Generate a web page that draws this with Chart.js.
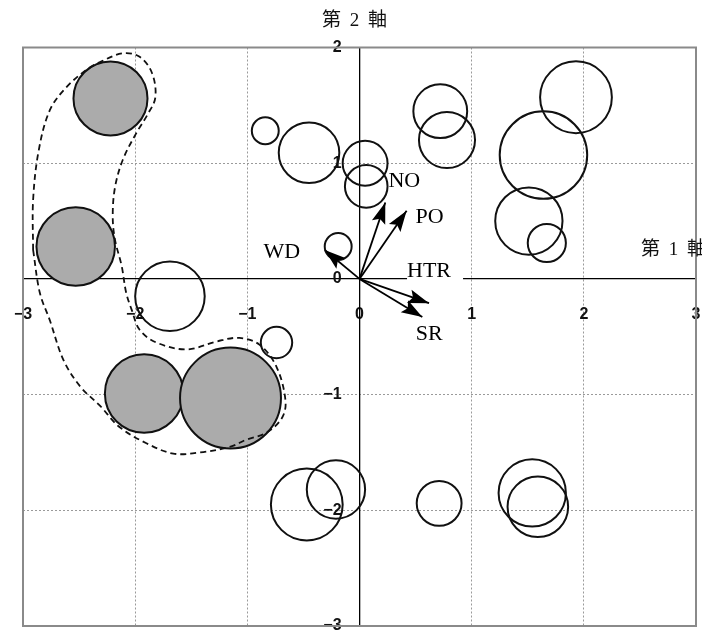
<!DOCTYPE html>
<html><head><meta charset="utf-8">
<script src="https://cdn.jsdelivr.net/npm/chart.js@4"></script>
<style>html,body{margin:0;padding:0;background:#fff}canvas{display:block}</style>
</head><body>
<canvas id="c" width="702" height="636"></canvas>
<script>
// ---- data ----
const pointX = [-2.22, -2.53, -0.84, -0.45, -1.69, -0.19, 0.05, 0.06, 0.72, 0.78, 1.64, 1.93, 1.51, 1.67, -0.74, -1.92, -1.15, -0.47, -0.21, 0.71, 1.54, 1.59];
const pointY = [1.56, 0.28, 1.28, 1.09, -0.15, 0.28, 1.00, 0.80, 1.45, 1.20, 1.07, 1.57, 0.50, 0.31, -0.55, -0.99, -1.03, -1.95, -1.82, -1.94, -1.85, -1.97];
const pointSize = [0.33, 0.35, 0.12, 0.27, 0.31, 0.12, 0.20, 0.19, 0.24, 0.25, 0.39, 0.32, 0.30, 0.17, 0.14, 0.35, 0.45, 0.32, 0.26, 0.20, 0.30, 0.27];
const pointGroup = [1, 1, 0, 0, 0, 0, 0, 0, 0, 0, 0, 0, 0, 0, 0, 1, 1, 0, 0, 0, 0, 0];

const arrowNames = ['NO', 'PO', 'WD', 'HTR', 'SR'];
const arrowX = [0.23, 0.42, -0.31, 0.62, 0.56];
const arrowY = [0.66, 0.59, 0.25, -0.21, -0.33];

const outlineX = [-2.91,-2.91,-2.86,-2.76,-2.61,-2.43,-2.30,-2.11,-1.96,-1.85,-1.82,-1.89,-1.99,-2.11,-2.18,-2.20,-2.18,-2.12,-2.08,-2.03,-1.96,-1.81,-1.54,-1.27,-1.07,-0.89,-0.74,-0.66,-0.69,-0.83,-1.01,-1.15,-1.42,-1.66,-1.90,-2.14,-2.31,-2.49,-2.64,-2.76,-2.85];
const outlineY = [0.25,0.68,1.11,1.46,1.66,1.81,1.88,1.95,1.92,1.78,1.57,1.42,1.26,1.03,0.79,0.54,0.34,0.11,-0.12,-0.27,-0.44,-0.55,-0.61,-0.54,-0.51,-0.57,-0.76,-1.05,-1.20,-1.33,-1.39,-1.45,-1.50,-1.51,-1.42,-1.28,-1.10,-0.93,-0.70,-0.36,-0.12];

const xTicks = [-3, -2, -1, 0, 1, 2, 3];
const yTicks = [-3, -2, -1, 0, 1, 2];
const axisTitles = ['第 1 軸', '第 2 軸'];

// ---- build ----
function sizeToPx(chart, s) {
  const sc = chart.scales.x;
  if (!sc) return 0;
  const k = Math.abs(sc.getPixelForValue(1) - sc.getPixelForValue(0));
  return isFinite(k) ? s * k : 0;
}
function pts(g) {
  const out = [];
  pointX.forEach((x, i) => { if (pointGroup[i] === g) out.push({x: x, y: pointY[i], s: pointSize[i]}); });
  return out;
}
const radiusFn = ctx => sizeToPx(ctx.chart, ctx.raw ? ctx.raw.s : 0);

const outlineData = outlineX.map((x, i) => ({x: x, y: outlineY[i]}));
outlineData.push({x: outlineX[0], y: outlineY[0]});

const datasets = [
  {label: 'outline', data: outlineData, showLine: true, pointRadius: 0, borderColor: '#111', borderWidth: 1.8,
   borderDash: [6, 4], tension: 0.35, fill: false, xAxisID: 'x', yAxisID: 'y'},
  {label: 'open', data: pts(0), pointRadius: radiusFn, pointHoverRadius: radiusFn, xAxisID: 'x', yAxisID: 'y',
   pointBackgroundColor: 'rgba(0,0,0,0)', pointBorderColor: '#111', pointBorderWidth: 2},
  {label: 'shaded', data: pts(1), pointRadius: radiusFn, pointHoverRadius: radiusFn, xAxisID: 'x', yAxisID: 'y',
   pointBackgroundColor: '#ababab', pointBorderColor: '#111', pointBorderWidth: 2}
];
arrowNames.forEach((n, i) => {
  datasets.push({label: 'arrow-' + n, arrowName: n, data: [{x: 0, y: 0}, {x: arrowX[i], y: arrowY[i]}],
    xAxisID: 'x', yAxisID: 'y', showLine: true, pointRadius: 0, borderColor: '#000', borderWidth: 1.8});
});

const fmt = v => v < 0 ? '\u2212' + Math.abs(v) : String(v);
const tickFont = {family: '"Liberation Sans", Arial, sans-serif', size: 16, weight: 'bold'};

const labelOffsets = {NO: [19, -21], PO: [23, 7], WD: [-43, 2], HTR: [0, -32], SR: [7, 17]};

const decor = {
  id: 'decor',
  afterDatasetsDraw(chart) {
    const ctx = chart.ctx;
    chart.data.datasets.forEach((ds, di) => {
      if (!ds.arrowName) return;
      const meta = chart.getDatasetMeta(di);
      const o = meta.data[0], t = meta.data[1];
      const dx = t.x - o.x, dy = t.y - o.y;
      const len = Math.hypot(dx, dy);
      const ux = dx / len, uy = dy / len, nx = -uy, ny = ux;
      const L = 21, W = 7, N = 4;
      ctx.save();
      ctx.fillStyle = '#000';
      ctx.beginPath();
      ctx.moveTo(t.x, t.y);
      ctx.lineTo(t.x - L * ux + W * nx, t.y - L * uy + W * ny);
      ctx.lineTo(t.x - (L - N) * ux, t.y - (L - N) * uy);
      ctx.lineTo(t.x - L * ux - W * nx, t.y - L * uy - W * ny);
      ctx.closePath();
      ctx.fill();
      const off = labelOffsets[ds.arrowName];
      const lx = t.x + off[0], ly = t.y + off[1];
      ctx.font = '22px "Liberation Serif", "Times New Roman", serif';
      ctx.textAlign = 'center';
      ctx.textBaseline = 'middle';
      if (ds.arrowName === 'HTR') {
        const w = ctx.measureText('HTR').width;
        ctx.fillStyle = '#fff';
        ctx.fillRect(lx - w / 2, ly - 10, w + 12, 22);
      }
      ctx.fillStyle = '#000';
      ctx.fillText(ds.arrowName, lx, ly);
      ctx.restore();
    });
  },
  afterDraw(chart) {
    const ctx = chart.ctx, a = chart.chartArea;
    ctx.save();
    ctx.strokeStyle = '#8a8a8a';
    ctx.lineWidth = 2;
    ctx.strokeRect(a.left, a.top, a.right - a.left, a.bottom - a.top);
    ctx.fillStyle = '#111';
    ctx.font = '19px "Liberation Serif", "Noto Sans CJK JP", serif';
    if ('letterSpacing' in ctx) ctx.letterSpacing = '2px';
    ctx.textBaseline = 'middle';
    ctx.textAlign = 'center';
    ctx.fillText(axisTitles[1], chart.scales.x.getPixelForValue(0) - 4, 21);
    ctx.textAlign = 'left';
    ctx.fillText(axisTitles[0], 641, 250);
    ctx.restore();
  }
};

new Chart(document.getElementById('c'), {
  type: 'scatter',
  data: {datasets: datasets},
  options: {
    responsive: false,
    animation: false,
    events: [],
    layout: {padding: {left: 23, right: 6, top: 47.5, bottom: 10}, autoPadding: false},
    plugins: {legend: {display: false}, tooltip: {enabled: false}},
    scales: {
      x: {
        type: 'linear', axis: 'x', position: {y: 0}, min: -3, max: 3,
        afterBuildTicks: s => { s.ticks = xTicks.map(v => ({value: v})); },
        grid: {color: '#9a9a9a', lineWidth: 1, drawTicks: true, tickLength: 26, tickColor: 'rgba(0,0,0,0)', tickWidth: 1},
        border: {display: true, color: '#000', width: 1.3, dash: [2, 2]},
        ticks: {padding: 0, color: '#111', font: tickFont, callback: fmt, maxRotation: 0, autoSkip: false}
      },
      y: {
        type: 'linear', axis: 'y', position: {x: 0}, min: -3, max: 2,
        afterBuildTicks: s => { s.ticks = yTicks.map(v => ({value: v})); },
        grid: {color: '#9a9a9a', lineWidth: 1, drawTicks: false},
        border: {display: true, color: '#000', width: 1.3, dash: [2, 2]},
        ticks: {display: false}
      },
      yLabels: {
        type: 'linear', axis: 'y', position: {x: -0.16}, min: -3, max: 2,
        afterBuildTicks: s => { s.ticks = yTicks.map(v => ({value: v})); },
        grid: {display: false, drawTicks: false},
        border: {display: false},
        ticks: {padding: 0, color: '#111', font: tickFont, callback: fmt, autoSkip: false}
      }
    }
  },
  plugins: [decor]
});
</script>
</body></html>
